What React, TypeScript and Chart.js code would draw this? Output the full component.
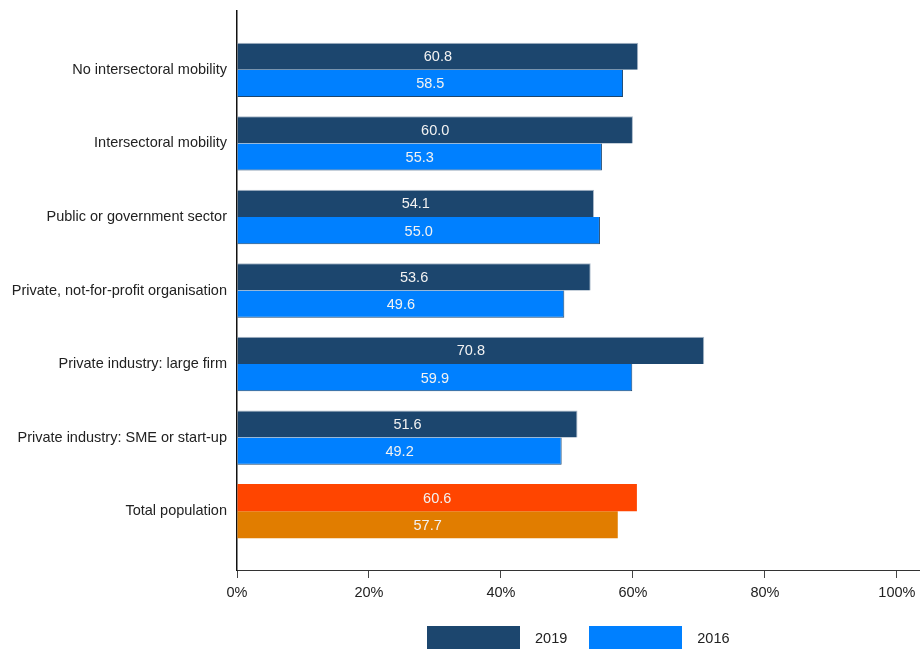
import React, { useEffect, useRef } from "react";
import { Chart, registerables } from "chart.js";

Chart.register(...registerables);

const CATEGORIES = [
  "No intersectoral mobility",
  "Intersectoral mobility",
  "Public or government sector",
  "Private, not-for-profit organisation",
  "Private industry: large firm",
  "Private industry: SME or start-up",
  "Total population",
];
const SERIES_2019 = [60.8, 60.0, 54.1, 53.6, 70.8, 51.6, 60.6];
const SERIES_2016 = [58.5, 55.3, 55.0, 49.6, 59.9, 49.2, 57.7];
const X_TICKS = [0, 20, 40, 60, 80, 100];

const DARK = "#1c466e";
const BRIGHT = "#0080ff";
const ORANGE_2019 = "#ff4500";
const ORANGE_2016 = "#e17d00";
const TOTAL_INDEX = CATEGORIES.length - 1;
const FONT = "'Liberation Sans', Arial, Helvetica, sans-serif";
const FS = 14.5;

const valueLabels = {
  id: "valueLabels",
  afterDatasetsDraw(chart: any) {
    const ctx = chart.ctx;
    ctx.save();
    ctx.font = `${FS}px ${FONT}`;
    ctx.fillStyle = "#f2f2f2";
    ctx.textAlign = "center";
    ctx.textBaseline = "middle";
    chart.data.datasets.forEach((ds: any, di: number) => {
      const meta = chart.getDatasetMeta(di);
      meta.data.forEach((el: any, i: number) => {
        const v = ds.data[i].x;
        ctx.fillText(v.toFixed(1), (el.x + el.base) / 2, el.y + 1);
      });
    });
    ctx.restore();
  },
};

export default function App() {
  const ref = useRef<HTMLCanvasElement | null>(null);

  useEffect(() => {
    if (!ref.current) return;
    const chart = new Chart(ref.current, {
      type: "bar",
      data: {
        datasets: [
          {
            label: "2019",
            data: SERIES_2019.map((v, i) => ({ x: v, y: i })),
            backgroundColor: (c: any) => (c.dataIndex === TOTAL_INDEX ? ORANGE_2019 : DARK),
            borderColor: "#a9b8c8",
            borderWidth: (c: any) =>
              c.dataIndex === TOTAL_INDEX ? 0 : { top: 1, right: 1, bottom: 0, left: 0 },
            borderSkipped: false,
          },
          {
            label: "2016",
            data: SERIES_2016.map((v, i) => ({ x: v, y: i })),
            backgroundColor: (c: any) => (c.dataIndex === TOTAL_INDEX ? ORANGE_2016 : BRIGHT),
            borderColor: DARK,
            borderWidth: (c: any) =>
              c.dataIndex === TOTAL_INDEX ? 0 : { top: 0, right: 1, bottom: 1, left: 0 },
            borderSkipped: false,
          },
        ],
      },
      options: {
        indexAxis: "y",
        responsive: false,
        animation: false,
        categoryPercentage: 0.74,
        barPercentage: 1,
        layout: { padding: { top: 11, left: 0, right: 0, bottom: 0 } },
        plugins: {
          legend: { display: false },
          tooltip: { enabled: false },
        },
        scales: {
          x: {
            type: "linear",
            min: 0,
            max: 103.5,
            offset: false,
            afterFit: (s: any) => {
              s.height = 79;
              s.paddingRight = 0;
            },
            afterBuildTicks: (s: any) => {
              s.ticks = X_TICKS.map((v) => ({ value: v }));
            },
            ticks: {
              callback: (v: any) => `${v}%`,
              font: { family: FONT, size: FS },
              color: "#222",
              padding: 6,
              maxRotation: 0,
            },
            grid: {
              display: true,
              drawOnChartArea: false,
              drawTicks: true,
              tickLength: 8,
              color: "#444",
            },
            border: { display: true, color: "#333", width: 1 },
          },
          y: {
            type: "linear",
            reverse: true,
            offset: false,
            min: -0.8,
            max: 6.8,
            afterFit: (s: any) => {
              s.width = 237;
              s.paddingTop = 0;
              s.paddingBottom = 0;
            },
            afterBuildTicks: (s: any) => {
              s.ticks = CATEGORIES.map((_, i) => ({ value: i }));
            },
            ticks: {
              callback: (v: any) => CATEGORIES[v] ?? "",
              font: { family: FONT, size: FS },
              color: "#222",
              padding: 10,
              autoSkip: false,
            },
            grid: { display: false, drawTicks: false, offset: false },
            border: { display: true, color: "#111", width: 1.5 },
          },
        },
      },
      plugins: [valueLabels],
    } as any);
    return () => chart.destroy();
  }, []);

  const legendItems = [
    { label: "2019", color: DARK },
    { label: "2016", color: BRIGHT },
  ];

  return (
    <div
      style={{
        position: "fixed",
        left: 0,
        top: 0,
        width: 920,
        height: 649,
        overflow: "hidden",
        background: "#fff",
      }}
    >
      <canvas ref={ref} width={920} height={649} style={{ width: 920, height: 649, display: "block" }} />
      <div
        style={{
          position: "absolute",
          left: 427,
          top: 626,
          display: "flex",
          alignItems: "center",
          fontFamily: FONT,
          fontSize: FS,
          color: "#222",
        }}
      >
        {legendItems.map((it, i) => (
          <div key={it.label} style={{ display: "flex", alignItems: "center", marginRight: i === 0 ? 22 : 0 }}>
            <div style={{ width: 93, height: 24, background: it.color }} />
            <span style={{ marginLeft: 15, lineHeight: "24px" }}>{it.label}</span>
          </div>
        ))}
      </div>
    </div>
  );
}
